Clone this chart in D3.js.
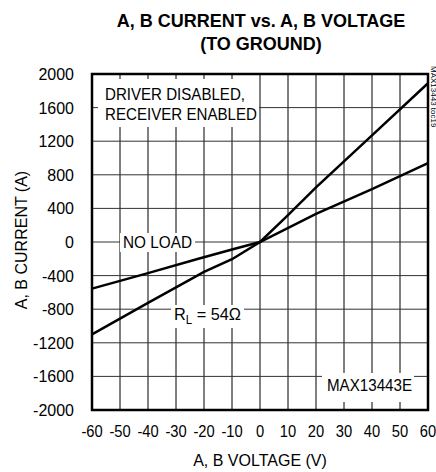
<!doctype html>
<html>
<head>
<meta charset="utf-8">
<script src="https://d3js.org/d3.v7.min.js"></script>
<style>
  body { margin: 0; background: #fff; }
  svg text { font-family: "Liberation Sans", Arial, sans-serif; fill: #000; }
</style>
</head>
<body>
<svg width="436" height="472"></svg>
<script>
// values
var xTicks = [-60, -50, -40, -30, -20, -10, 0, 10, 20, 30, 40, 50, 60]
var yTicks = [2000, 1600, 1200, 800, 400, 0, -400, -800, -1200, -1600, -2000]

var noLoadV = [-60, -40, -22, -10, 0, 20, 40, 60]
var noLoadI = [-555, -370, -200, -90, 0, 335, 630, 940]

var rlV = [-60, -40, -20, -10, 0, 10, 20, 40, 60]
var rlI = [-1100, -725, -355, -205, 0, 320, 650, 1270, 1890]

var svg = d3.select("svg")
var pLeft = 92, pRight = 428, pTop = 74, pBottom = 410

var x = d3.scaleLinear().domain([-60, 60]).range([pLeft, pRight])
var y = d3.scaleLinear().domain([-2000, 2000]).range([pBottom, pTop])

// text squeezed to a given width, the original uses a narrow face
function fitText(px, py, str, size, width, anchor) {
  return svg.append("text").attr("x", px).attr("y", py)
    .attr("font-size", size + "px")
    .attr("text-anchor", anchor || "start")
    .attr("textLength", width).attr("lengthAdjust", "spacingAndGlyphs")
    .text(str)
}

// title
svg.append("text").attr("x", 261).attr("y", 27).attr("text-anchor", "middle")
  .attr("font-size", "18px").attr("font-weight", "bold").text("A, B CURRENT vs. A, B VOLTAGE")
svg.append("text").attr("x", 261).attr("y", 50).attr("text-anchor", "middle")
  .attr("font-size", "18px").attr("font-weight", "bold").text("(TO GROUND)")

// grid
svg.append("g").selectAll("line").data(xTicks).enter().append("line")
  .attr("x1", d => x(d)).attr("x2", d => x(d)).attr("y1", pTop).attr("y2", pBottom)
  .attr("stroke", "#000").attr("stroke-width", 1)
svg.append("g").selectAll("line").data(yTicks).enter().append("line")
  .attr("x1", pLeft).attr("x2", pRight).attr("y1", d => y(d)).attr("y2", d => y(d))
  .attr("stroke", "#333").attr("stroke-width", 1)

// white boxes behind the notes
svg.append("rect").attr("x", 98).attr("y", 79).attr("width", 161).attr("height", 48).attr("fill", "#fff")
svg.append("rect").attr("x", 322).attr("y", 373).attr("width", 92).attr("height", 29).attr("fill", "#fff")

// curves
var line = d3.line().x(d => x(d[0])).y(d => y(d[1]))
svg.append("path").datum(noLoadV.map((v, i) => [v, noLoadI[i]]))
  .attr("d", line).attr("fill", "none").attr("stroke", "#000").attr("stroke-width", 2.5)
svg.append("path").datum(rlV.map((v, i) => [v, rlI[i]]))
  .attr("d", line).attr("fill", "none").attr("stroke", "#000").attr("stroke-width", 2.5)

// curve labels
svg.append("rect").attr("x", 120).attr("y", 233).attr("width", 75).attr("height", 19).attr("fill", "#fff")
fitText(123, 248, "NO LOAD", 17, 69)

svg.append("rect").attr("x", 171).attr("y", 305).attr("width", 73).attr("height", 23).attr("fill", "#fff")
var rl = svg.append("text").attr("x", 174).attr("y", 320).attr("font-size", "17px")
  .attr("textLength", 67).attr("lengthAdjust", "spacingAndGlyphs")
rl.append("tspan").text("R")
rl.append("tspan").attr("font-size", "12px").attr("dy", 4).text("L")
rl.append("tspan").attr("dy", -4).text(" = 54\u03a9")

fitText(105, 100, "DRIVER DISABLED,", 17, 140)
fitText(105, 120, "RECEIVER ENABLED", 17, 152)
fitText(327, 391, "MAX13443E", 17, 85)

// frame
svg.append("rect").attr("x", pLeft).attr("y", pTop).attr("width", pRight - pLeft).attr("height", pBottom - pTop)
  .attr("fill", "none").attr("stroke", "#000").attr("stroke-width", 2.5)

// tick labels
svg.append("g").selectAll("text").data(yTicks).enter().append("text")
  .attr("x", 74).attr("y", d => y(d) + 6).attr("text-anchor", "end").attr("font-size", "16px").text(d => d)
svg.append("g").selectAll("text").data(xTicks).enter().append("text")
  .attr("transform", d => "translate(" + x(d) + ",437) scale(0.92,1)")
  .attr("text-anchor", "middle").attr("font-size", "16px").text(d => d)

// axis titles
svg.append("text").attr("x", 260).attr("y", 466).attr("text-anchor", "middle").attr("font-size", "16px").text("A, B VOLTAGE (V)")
svg.append("text").attr("transform", "translate(27,240) rotate(-90)").attr("text-anchor", "middle")
  .attr("font-size", "16px").text("A, B CURRENT (A)")

// figure id on the edge
svg.append("text").attr("transform", "translate(431,66) rotate(90)").attr("font-size", "8px").attr("fill", "#333").text("MAX13443 toc19")
</script>
</body>
</html>
